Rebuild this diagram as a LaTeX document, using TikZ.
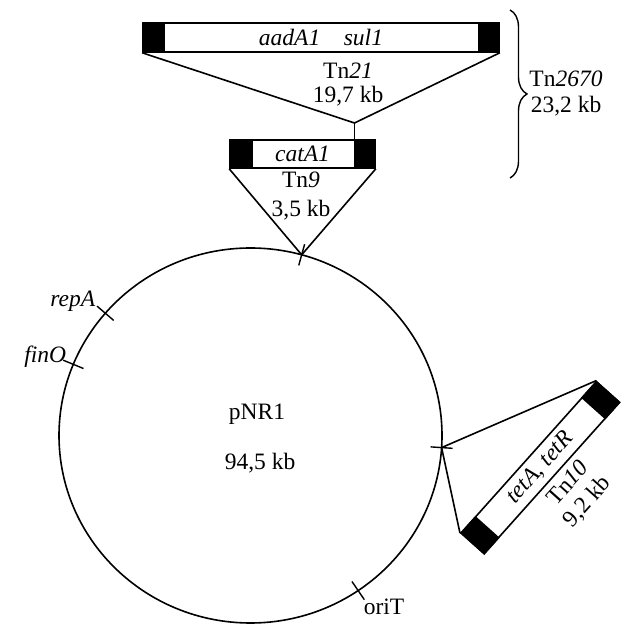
\documentclass[tikz,border=0pt]{standalone}
\usepackage{fontspec}
\setmainfont{Liberation Serif}
\usepackage{tikz}
\usetikzlibrary{calc,decorations.pathreplacing}

\tikzset{
  tnbox/.style={draw, rectangle, fill=white, inner sep=0pt, line width=1.6pt},
  sitemark/.style={line width=1.4pt}
}

\begin{document}
\begin{tikzpicture}[x=1pt, y=1pt, line width=1.6pt, line join=miter, every node/.style={font=\fontsize{23.5}{27}\selectfont, inner sep=0pt}]
    \useasboundingbox (0,0) rectangle (622,626);

    % plasmid
    \coordinate (c) at (250.5,190.5);
    \draw (c) ellipse [x radius=191.5, y radius=187.5];
    \node (pname) at (257,212) {pNR1};
    \node (psize) at (260,163) {94,5 kb};

    % sites on the plasmid
    \foreach \a/\n in {74.5/s9, -3.7/s10, 139.3/srep, 157.7/sfin, -55.8/sori} {
        \coordinate (\n) at ([shift={(\a:191.5 and 187.5)}]c);
        \draw[sitemark] ([shift={(\a:-11)}]\n) -- ([shift={(\a:11)}]\n);
    }
    \node[anchor=base east] (repA) at (96,319) {\textit{repA}};
    \node[anchor=base east] (finO) at (67,263) {\textit{finO}};
    \node[anchor=base west] (oriT) at (363,12) {oriT};

    % Tn21
    \node[tnbox, minimum width=356, minimum height=29] (tn21) at (321,588.5) {\textit{aadA1\quad sul1}};
    \coordinate (j21) at (354.5,503);
    \draw (tn21.south west) -- (j21) -- (tn21.south east);
    \node (tn21name) at (348,555) {Tn\textit{21}};
    \node (tn21size) at (348,530) {19,7 kb};

    % Tn9
    \node[tnbox, minimum width=145, minimum height=28] (tn9) at (302.5,472) {\textit{catA1}};
    \draw (j21) -- (j21 |- tn9.north);
    \draw (tn9.south west) -- (s9) -- (tn9.south east);
    \node (tn9name) at (301,446) {Tn\textit{9}};
    \node (tn9size) at (301,416) {3,5 kb};

    % Tn2670
    \draw[line width=1.4pt, decorate, decoration={brace, amplitude=17}] (510,616) -- (510,448);
    \node (tn2670name) at (566,547) {Tn\textit{2670}};
    \node (tn2670size) at (566,520) {23,2 kb};

    % Tn10
    \node[tnbox, rotate=48.2, minimum width=203, minimum height=31] (tn10) at (540.3,158.3) {\textit{tetA, tetR}};
    \draw (tn10.north west) -- (s10) -- (tn10.north east);
    \node[rotate=48.2] (tn10name) at (567.3,143.5) {Tn\textit{10}};
    \node[rotate=48.2] (tn10size) at (587.5,124.1) {9,2 kb};

    % black ends of the boxes
    \foreach \b/\l/\r in {tn21/23/22, tn9/24/22, tn10/23/23} {
        \fill (\b.south west) -- (\b.north west) -- ($(\b.north west)!\l pt!(\b.north east)$) -- ($(\b.south west)!\l pt!(\b.south east)$) -- cycle;
        \fill (\b.south east) -- (\b.north east) -- ($(\b.north east)!\r pt!(\b.north west)$) -- ($(\b.south east)!\r pt!(\b.south west)$) -- cycle;
    }
\end{tikzpicture}
\end{document}
